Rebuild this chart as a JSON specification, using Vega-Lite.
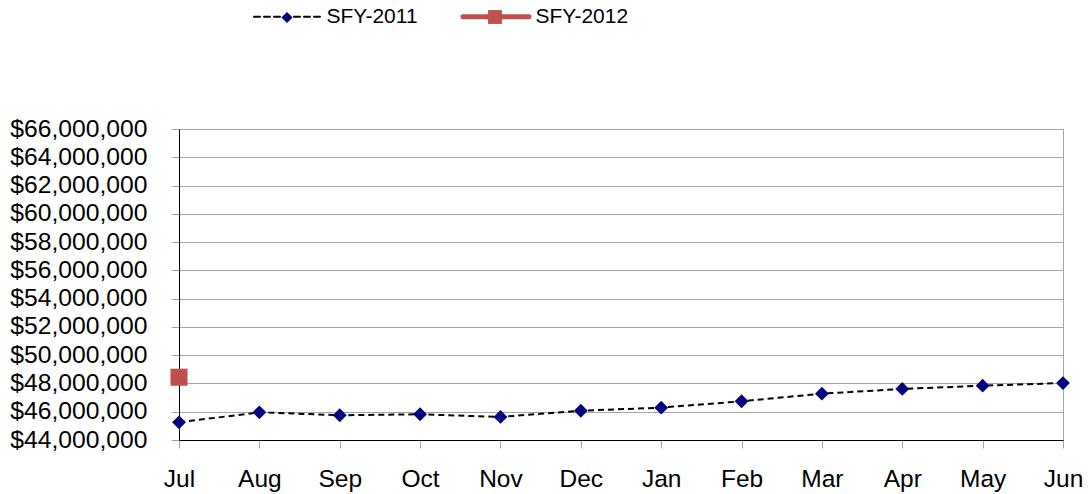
{
  "$schema": "https://vega.github.io/schema/vega-lite/v6.json",
  "width": 884,
  "height": 311,
  "autosize": {"type": "none"},
  "padding": {"left": 179, "top": 129, "right": 25, "bottom": 54},
  "background": "white",
  "config": {
    "font": "Liberation Sans",
    "view": {"stroke": "#a6a6a6", "strokeWidth": 1}
  },
  "data": {
    "values": [
      {"month": "Jul", "series": "SFY-2011", "value": 45250000},
      {"month": "Aug", "series": "SFY-2011", "value": 45960000},
      {"month": "Sep", "series": "SFY-2011", "value": 45750000},
      {"month": "Oct", "series": "SFY-2011", "value": 45820000},
      {"month": "Nov", "series": "SFY-2011", "value": 45630000},
      {"month": "Dec", "series": "SFY-2011", "value": 46070000},
      {"month": "Jan", "series": "SFY-2011", "value": 46290000},
      {"month": "Feb", "series": "SFY-2011", "value": 46740000},
      {"month": "Mar", "series": "SFY-2011", "value": 47280000},
      {"month": "Apr", "series": "SFY-2011", "value": 47610000},
      {"month": "May", "series": "SFY-2011", "value": 47840000},
      {"month": "Jun", "series": "SFY-2011", "value": 48030000},
      {"month": "Jul", "series": "SFY-2012", "value": 48440000}
    ]
  },
  "encoding": {
    "x": {
      "field": "month",
      "type": "ordinal",
      "sort": ["Jul", "Aug", "Sep", "Oct", "Nov", "Dec", "Jan", "Feb", "Mar", "Apr", "May", "Jun"],
      "scale": {"type": "point", "padding": 0},
      "axis": {
        "title": null,
        "labelAngle": 0,
        "labelFontSize": 24.5,
        "labelColor": "#000000",
        "labelPadding": 19,
        "labelFlush": false,
        "tickColor": "#a6a6a6",
        "tickSize": 8,
        "domainColor": "#000000",
        "domainWidth": 1,
        "grid": false
      }
    },
    "y": {
      "field": "value",
      "type": "quantitative",
      "scale": {"domain": [44000000, 66000000], "nice": false, "zero": false},
      "axis": {
        "title": null,
        "values": [44000000, 46000000, 48000000, 50000000, 52000000, 54000000, 56000000, 58000000, 60000000, 62000000, 64000000, 66000000],
        "format": "$,.0f",
        "labelFontSize": 24.7,
        "labelColor": "#000000",
        "labelPadding": 24,
        "labelOverlap": false,
        "labelFlush": false,
        "tickColor": "#a6a6a6",
        "tickSize": 8,
        "domainColor": "#000000",
        "domainWidth": 1,
        "grid": true,
        "gridColor": "#a6a6a6",
        "gridWidth": 1
      }
    }
  },
  "layer": [
    {
      "mark": {"type": "line", "strokeWidth": 2},
      "encoding": {
        "stroke": {
          "field": "series",
          "type": "nominal",
          "scale": {"domain": ["SFY-2011", "SFY-2012"], "range": ["#000000", "#C0504D"]},
          "legend": {
            "orient": "none",
            "legendX": 74,
            "legendY": -123,
            "direction": "horizontal",
            "title": null,
            "padding": 0,
            "symbolType": "stroke",
            "symbolSize": 4356,
            "symbolStrokeWidth": 2,
            "symbolOffset": 23.5,
            "labelFontSize": 21,
            "labelColor": "#000000",
            "labelOffset": 29,
            "columnPadding": 35,
            "encode": {
              "symbols": {
                "update": {
                  "strokeWidth": {"signal": "datum.value === 'SFY-2012' ? 5 : 2"},
                  "strokeCap": {"value": "round"}
                }
              }
            }
          }
        },
        "strokeDash": {
          "field": "series",
          "type": "nominal",
          "scale": {"domain": ["SFY-2011", "SFY-2012"], "range": [[6, 4], [1, 0]]}
        }
      }
    },
    {
      "mark": {"type": "point", "filled": true, "size": 6600, "opacity": 1},
      "encoding": {
        "fill": {
          "field": "series",
          "type": "nominal",
          "scale": {"range": ["#000080", "#C0504D"]},
          "legend": {
            "orient": "none",
            "legendX": 74,
            "legendY": -146,
            "direction": "horizontal",
            "title": null,
            "padding": 0,
            "symbolSize": 4356,
            "symbolStrokeWidth": 2,
            "symbolOpacity": 1,
            "labelExpr": "''",
            "labelFontSize": 21,
            "labelOffset": 6,
            "columnPadding": 134,
            "encode": {
              "symbols": {
                "update": {
                  "stroke": {"value": "transparent"}
                }
              }
            }
          }
        },
        "shape": {
          "field": "series",
          "type": "nominal",
          "scale": {"range": ["M0,-0.17L0.17,0L0,0.17L-0.17,0Z", "M-0.21,-0.21H0.21V0.21H-0.21Z"]}
        }
      }
    }
  ]
}
